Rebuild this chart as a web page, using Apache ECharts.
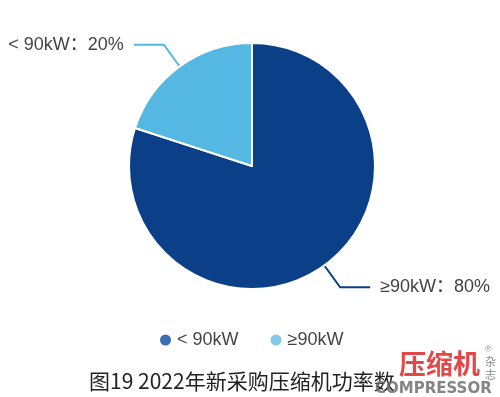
<!DOCTYPE html>
<html><head><meta charset="utf-8">
<script src="https://cdn.jsdelivr.net/npm/echarts@6/dist/echarts.min.js"></script>
<style>html,body{margin:0;padding:0;background:#fff}#c{width:500px;height:397px}</style>
</head><body><div id="c"></div>
<script>
const categories = ['≥90kW', '< 90kW'];
const values = [80, 20];
const sliceColors = ['#0b3f88', '#55b8e3'];
const legendOrder = ['< 90kW', '≥90kW'];
const legendColors = ['#3b6cb4', '#84c8ea'];
const titleText = '图19 2022年新采购压缩机功率数';

const chart = echarts.init(document.getElementById('c'));
const font = '"Liberation Sans", "Noto Sans CJK SC", sans-serif';
chart.setOption({
  animation: false,
  title: {
    text: titleText, left: 84, top: 366,
    textStyle: { fontSize: 21, fontWeight: 'normal', color: '#222', fontFamily: '"Noto Sans CJK SC", sans-serif' }
  },
  legend: {
    top: 326, left: 153, icon: 'circle', itemWidth: 13, itemHeight: 13, itemGap: 30,
    textStyle: { fontSize: 18, color: '#444', fontFamily: font },
    data: legendOrder.map((n, i) => ({ name: n, itemStyle: { color: legendColors[i] } }))
  },
  series: [{
    type: 'pie',
    center: [252, 166], radius: 123,
    startAngle: 90, clockwise: true,
    itemStyle: { borderColor: '#fff', borderWidth: 2 },
    label: {
      formatter: '{b}：{d}%', fontSize: 18, color: '#444', fontFamily: font,
      distanceToLabelLine: 10, overflow: 'none', edgeDistance: 0
    },
    labelLine: { length: 27, length2: 30, lineStyle: { width: 2 } },
    data: categories.map((n, i) => ({ name: n, value: values[i], itemStyle: { color: sliceColors[i] } }))
  }],
  graphic: [
    { type: 'text', left: 399, top: 350, z: 100, style: { text: '压缩机', fontSize: 27, fontWeight: 'bold', fill: 'rgba(222,40,40,0.85)', fontFamily: '"Noto Sans CJK SC", sans-serif' } },
    { type: 'text', left: 485, top: 345, z: 100, style: { text: '®', fontSize: 9, fill: '#999' } },
    { type: 'text', left: 485, top: 356, z: 100, style: { text: '杂', fontSize: 11, fill: '#888', fontFamily: '"Noto Sans CJK SC", sans-serif' } },
    { type: 'text', left: 485, top: 369, z: 100, style: { text: '志', fontSize: 11, fill: '#888', fontFamily: '"Noto Sans CJK SC", sans-serif' } },
    { type: 'text', left: 375, top: 382, z: 100, style: { text: 'COMPRESSOR', fontSize: 15, fontWeight: 'bold', fill: 'rgba(110,110,110,0.85)', fontFamily: '"DejaVu Sans", sans-serif' } }
  ]
});
</script></body></html>
